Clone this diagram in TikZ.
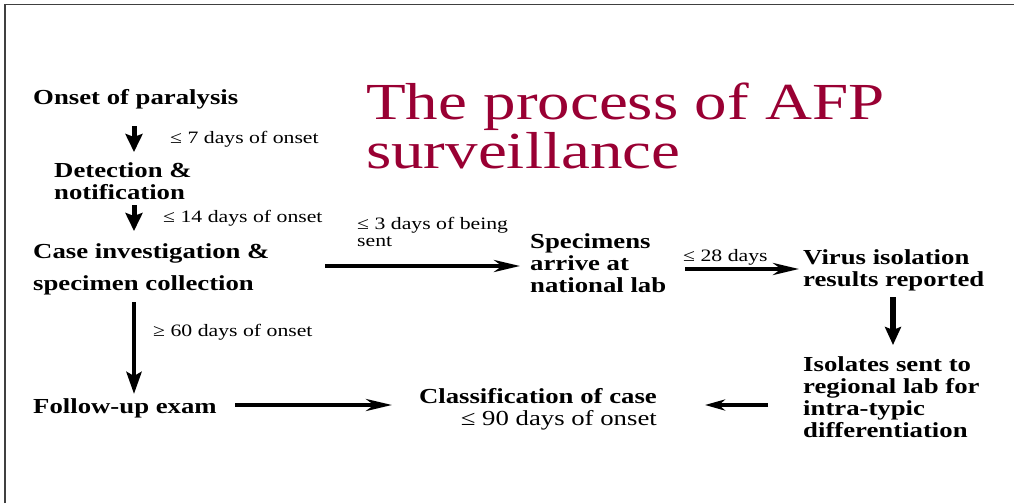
\documentclass[tikz,border=0pt]{standalone}
\usepackage{fontspec}
\setmainfont[FakeStretch=1.25]{Liberation Serif}
\usetikzlibrary{arrows.meta}
\definecolor{titlered}{RGB}{153,0,51}
\begin{document}
\begin{tikzpicture}[x=1pt,y=-1pt,
  step box/.style={anchor=base west,inner sep=0pt,align=left,
    font=\fontsize{21.4}{22}\selectfont\bfseries},
  time label/.style={anchor=base west,inner sep=0pt,align=left,
    font=\fontsize{17.4}{17}\selectfont},
  flow/.style={line width=5pt,-{Stealth[length=18pt,width=17pt,inset=3pt]}},
  long flow/.style={line width=4pt,-{Stealth[length=26pt,width=12pt,inset=8pt]}},
  frame line/.style={line width=1.6pt,draw=black!75}]
\useasboundingbox (0,0) rectangle (1014,503);
% frame (top and left edges)
\coordinate (fa) at (5,503);
\coordinate (fb) at (5,4.5);
\coordinate (fc) at (1014,4.5);
\draw[frame line] (fa) -- (fb) -- (fc);
% title
\node[anchor=base west,inner sep=0pt,align=left,text=titlered,
  font=\fontsize{52}{46}\selectfont] (title) at (366,168)
  {The process of AFP\\surveillance};
% steps
\node[step box] (onset) at (33,104) {Onset of paralysis};
\node[step box] (detect) at (54,199) {Detection \&\\notification};
\node[step box,font=\fontsize{21.4}{32}\selectfont\bfseries] (invest) at (33,290) {Case investigation \&\\specimen collection};
\node[step box] (spec) at (530,292) {Specimens\\arrive at\\national lab};
\node[step box] (virus) at (803,286) {Virus isolation\\results reported};
\node[step box] (isol) at (803,437) {Isolates sent to\\regional lab for\\intra-typic\\differentiation};
\node[anchor=base east,inner sep=0pt,align=right,font=\fontsize{21.4}{22}\selectfont] (class) at (657,425)
  {\textbf{Classification of case}\\≤ 90 days of onset};
\node[step box] (follow) at (33,413) {Follow-up exam};
% time labels
\node[time label] (t7) at (170,143) {≤ 7 days of onset};
\node[time label] (t14) at (163,222) {≤ 14 days of onset};
\node[time label] (t3) at (357,246) {≤ 3 days of being\\sent};
\node[time label] (t28) at (683,261) {≤ 28 days};
\node[time label] (t60) at (153,336) {≥ 60 days of onset};
% arrow ends
\coordinate (a1s) at (134,126); \coordinate (a1e) at (134,152);
\coordinate (a2s) at (134,205); \coordinate (a2e) at (134,231);
\coordinate (a3s) at (134,302); \coordinate (a3e) at (134,394);
\coordinate (a4s) at (325,266); \coordinate (a4e) at (520,266);
\coordinate (a5s) at (685,269); \coordinate (a5e) at (799,269);
\coordinate (a6s) at (893,297); \coordinate (a6e) at (893,345);
\coordinate (a7s) at (768,405); \coordinate (a7e) at (705,405);
\coordinate (a8s) at (235,405); \coordinate (a8e) at (392,405);
\draw[flow] (a1s) -- (a1e);
\draw[flow] (a2s) -- (a2e);
\draw[flow,line width=4.5pt,-{Stealth[length=22pt,width=15pt,inset=4pt]}] (a3s) -- (a3e);
\draw[long flow] (a4s) -- (a4e);
\draw[long flow] (a5s) -- (a5e);
\draw[flow,line width=6pt,-{Stealth[length=18pt,width=16pt,inset=3pt]}] (a6s) -- (a6e);
\draw[long flow,-{Stealth[length=20pt,width=11pt,inset=6pt]}] (a7s) -- (a7e);
\draw[long flow] (a8s) -- (a8e);
\end{tikzpicture}
\end{document}
